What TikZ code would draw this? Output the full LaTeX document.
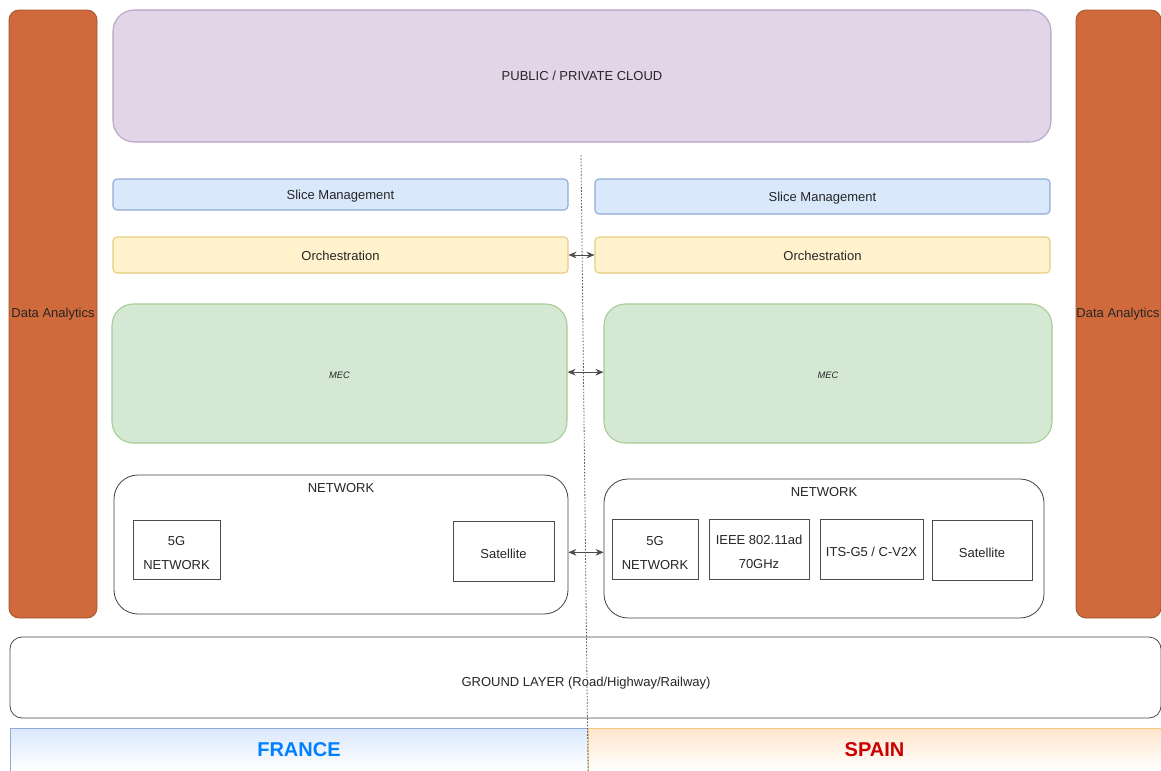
\documentclass[tikz,border=0pt]{standalone}
\usepackage{fontspec}
\setmainfont{Liberation Sans}
\usetikzlibrary{arrows.meta}
\definecolor{daFill}{HTML}{D06A3C}
\definecolor{daLine}{HTML}{A0522D}
\definecolor{cloudFill}{HTML}{E1D5E7}
\definecolor{cloudLine}{HTML}{B9A2C8}
\definecolor{sliceFill}{HTML}{DAE8FC}
\definecolor{sliceLine}{HTML}{8EAAD6}
\definecolor{orchFill}{HTML}{FFF2CC}
\definecolor{orchLine}{HTML}{E6CC80}
\definecolor{mecFill}{HTML}{D5E8D4}
\definecolor{mecLine}{HTML}{A6CC94}
\definecolor{frBlue}{HTML}{007FFF}
\definecolor{esRed}{HTML}{CC0000}
\definecolor{spainTop}{HTML}{FFE6CC}
\definecolor{spainLine}{HTML}{F0C878}
\definecolor{txt}{HTML}{262626}
\newcommand{\pxbox}[6]{\node[#1, inner sep=0pt, minimum width={(#4-#2)*0.75pt}, minimum height={(#5-#3)*0.75pt}] (#6) at ({(#2+#4)/2},{(#3+#5)/2}) {};}
\begin{document}
\begin{tikzpicture}[x=0.75pt, y=-0.75pt, font=\fontsize{9.75}{11}\selectfont, text=txt,
  da/.style={draw=daLine, fill=daFill, rounded corners=7.5pt, line width=0.6pt},
  cloud/.style={draw=cloudLine, fill=cloudFill, rounded corners=16pt, line width=0.8pt},
  slice/.style={draw=sliceLine, fill=sliceFill, rounded corners=3pt, line width=0.8pt},
  orch/.style={draw=orchLine, fill=orchFill, rounded corners=3pt, line width=0.8pt},
  mec/.style={draw=mecLine, fill=mecFill, rounded corners=16pt, line width=0.8pt},
  net/.style={draw=black!75, fill=white, rounded corners=18pt, line width=0.6pt},
  tech/.style={draw=black!70, fill=white, line width=0.6pt},
  techtxt/.style={align=center, font=\fontsize{9.75}{18}\selectfont},
  ground/.style={draw=black!70, fill=white, rounded corners=9pt, line width=0.6pt},
  link/.style={<->, >={Stealth[length=6pt,width=5pt]}, draw=black!70, line width=0.6pt}
]
\useasboundingbox (0,0) rectangle (1161,771);
% Data analytics
\pxbox{da}{9}{10}{97}{618}{daL}
\node (daLt) at (53,314) {Data Analytics};
\pxbox{da}{1076}{10}{1161}{618}{daR}
\node (daRt) at (1118,314) {Data Analytics};
% cloud
\pxbox{cloud}{113}{10}{1051}{142}{cloud}
\node at (cloud.center) {PUBLIC / PRIVATE CLOUD};
% slice
\pxbox{slice}{113}{179}{568}{210}{sliceL}
\node at ([yshift=-1.5pt]sliceL.center) {Slice Management};
\pxbox{slice}{595}{179}{1050}{214}{sliceR}
\node at ([yshift=-1.5pt]sliceR.center) {Slice Management};
% orchestration
\pxbox{orch}{113}{237}{568}{273}{orchL}
\node at ([yshift=-1pt]orchL.center) {Orchestration};
\pxbox{orch}{595}{237}{1050}{273}{orchR}
\node at ([yshift=-1pt]orchR.center) {Orchestration};
% MEC
\pxbox{mec}{112}{304}{567}{443}{mecL}
\node[font=\fontsize{7}{8}\selectfont\itshape] at ([yshift=-1.2pt]mecL.center) {MEC};
\pxbox{mec}{604}{304}{1052}{443}{mecR}
\node[font=\fontsize{7}{8}\selectfont\itshape] at ([yshift=-1.2pt]mecR.center) {MEC};
% network
\pxbox{net}{114}{475}{568}{614}{netL}
\node (netLt) at (341,488) {NETWORK};
\pxbox{net}{604}{479}{1044}{618}{netR}
\node (netRt) at (824,492) {NETWORK};
\pxbox{tech}{133}{520}{220}{579}{fgL}
\node[techtxt] at ([yshift=-3pt]fgL.center) {5G\\NETWORK};
\pxbox{tech}{453}{521}{554}{581}{satL}
\node at ([yshift=-2pt]satL.center) {Satellite};
\pxbox{tech}{612}{519}{698}{579}{fgR}
\node[techtxt] at ([yshift=-3pt]fgR.center) {5G\\NETWORK};
\pxbox{tech}{709}{519}{809}{579}{ieee}
\node[techtxt] at ([yshift=-2.5pt]ieee.center) {IEEE 802.11ad\\70GHz};
\pxbox{tech}{820}{519}{923}{579}{its}
\node at ([yshift=-2pt]its.center) {ITS-G5 / C-V2X};
\pxbox{tech}{932}{520}{1032}{580}{satR}
\node at ([yshift=-2pt]satR.center) {Satellite};
% ground
\pxbox{ground}{10}{637}{1161}{718}{ground}
\node at (586,683) {GROUND LAYER (Road/Highway/Railway)};
% countries
\node[inner sep=0pt, minimum width={578*0.75pt}, minimum height={43*0.75pt}, top color=sliceFill, bottom color=white, draw=sliceLine, line width=0.5pt] (france) at (299,749.5) {};
\node[text=frBlue, font=\fontsize{15}{16}\selectfont\bfseries] at (france.center) {FRANCE};
\node[inner sep=0pt, minimum width={573*0.75pt}, minimum height={43*0.75pt}, top color=spainTop, bottom color=white, draw=spainLine, line width=0.5pt] (spain) at (874.5,749.5) {};
\node[text=esRed, font=\fontsize{15}{16}\selectfont\bfseries] at (spain.center) {SPAIN};
% border line
\coordinate (btop) at (581,155);
\coordinate (bbot) at (588,771);
\draw[black!65, line width=0.6pt, dash pattern=on 1.2pt off 1.2pt] (btop) -- (bbot);
% links
\draw[link] (orchL.east) -- (orchR.west);
\draw[link] ([yshift=1pt]mecL.east) -- ([yshift=1pt]mecR.west);
\draw[link] ([yshift=-1pt]netL.east |- satL.center) -- ([yshift=-1pt]netR.west |- satL.center);
\end{tikzpicture}
\end{document}
